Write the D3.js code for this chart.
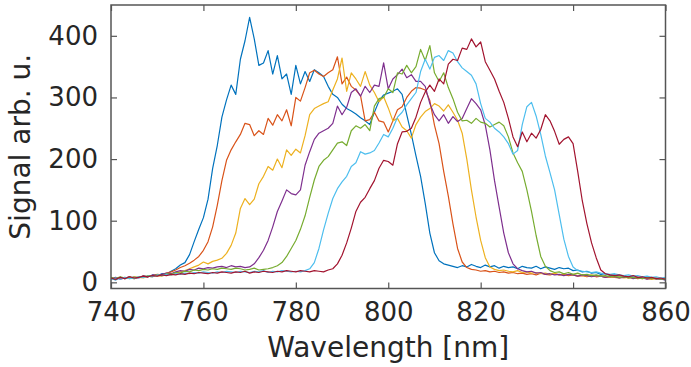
<!DOCTYPE html>
<html>
<head>
<meta charset="utf-8">
<script src="https://cdn.jsdelivr.net/npm/d3@7"></script>
<style>
    body { margin: 0; background: #fff; }
    text { font-family: "DejaVu Sans", sans-serif; fill: #262626; }
</style>
</head>
<body>
<div id="chart"></div>
<script>
// wavelength grid, 1 nm steps 740..860
let wavelength = d3.range(740, 861);

// spectra (arb. u.), one value per nm
let spec1 = [6,4,8,6,7,9,7,10,9,12, 11,14,13,18,22,28,32,45,66,86,
    105,135,185,222,268,296,320,305,362,392, 430,395,352,356,376,338,368,330,338,305,
    352,322,342,326,345,340,334,318,305,300, 289,282,278,273,267,262,256,276,294,304,
    307,310,314,305,272,240,205,172,128,80, 48,35,30,28,26,24,27,25,29,26,
    24,28,25,27,23,26,24,25,22,26, 24,23,26,22,25,23,21,24,22,23,
    19,20,17,18,15,16,13,14,11,12, 10,11,8,9,7,9,6,7,5,6, 4];
let spec2 = [7,5,8,6,9,7,8,10,9,11, 13,12,15,17,20,24,27,31,36,42,
    52,66,90,125,165,198,215,228,240,258, 256,238,246,240,266,255,272,262,280,254,
    300,294,316,340,344,338,334,340,345,366, 322,333,318,312,303,262,264,276,262,260,
    244,262,280,285,300,310,316,315,312,295, 255,225,180,140,95,55,33,24,21,20,
    18,19,17,18,16,17,15,16,14,15, 13,14,12,15,13,12,14,12,13,11,
    12,10,11,9,11,9,10,8,9,8, 7,9,7,8,6,7,6,5,7,5, 6];
let spec3 = [5,7,6,8,6,9,8,7,10,9, 11,10,13,12,15,17,19,22,25,28,
    33,30,34,36,39,47,60,80,120,136, 126,135,160,172,188,182,200,186,215,206,
    216,210,238,272,282,286,290,293,312,330, 364,310,340,330,318,342,320,308,293,301,
    283,262,266,252,246,234,256,268,277,282, 290,286,278,288,276,263,242,200,150,106,
    68,40,25,21,19,20,18,17,19,16, 17,15,16,14,15,13,15,12,14,12,
    13,11,12,10,12,10,11,9,10,8, 9,7,8,7,8,6,7,5,6,5, 6];
let spec4 = [6,8,5,7,9,6,8,10,9,12, 11,13,15,14,17,19,18,21,20,23,
    22,24,23,25,26,24,27,25,26,24, 25,30,40,52,68,90,115,132,150,144,
    142,150,190,212,232,242,246,250,258,286, 272,284,308,314,302,318,308,320,318,356,
    314,330,337,346,332,337,326,326,318,290, 272,262,272,258,269,261,266,282,298,290,
    280,255,215,165,122,80,48,30,22,19, 17,18,15,16,13,14,12,13,11,13,
    12,10,12,11,9,11,10,8,10,9, 7,8,9,6,8,7,5,7,6,5, 4];
let spec5 = [8,6,9,7,8,6,9,8,11,10, 12,11,14,13,16,15,18,17,20,19,
    21,20,22,21,23,22,21,23,22,20, 21,23,20,21,22,24,27,32,42,55,
    68,86,108,138,166,188,198,204,215,226, 228,222,246,254,250,256,246,286,298,300,
    314,308,340,338,352,340,350,378,360,384, 340,326,340,316,298,276,262,263,258,266,
    260,258,252,256,260,254,236,210,194,180, 150,115,76,42,26,19,16,17,14,16,
    13,15,12,13,11,12,10,11,9,10, 8,9,7,8,7,6,8,6,7,5, 6];
let spec6 = [4,7,5,8,6,7,9,8,10,9, 12,11,13,12,14,13,15,14,16,15,
    17,16,15,17,16,18,17,16,18,17, 16,18,17,19,16,18,17,19,18,17,
    18,17,19,22,32,55,85,112,136,152, 163,172,188,194,212,208,210,214,226,240,
    236,250,268,276,288,298,308,342,362,346, 365,368,360,376,372,358,348,342,336,322,
    290,266,260,250,244,236,225,208,214,256, 285,292,270,240,205,178,150,110,70,42,
    25,19,18,17,16,17,15,14,13,14, 12,11,12,10,11,9,10,8,9,7, 8];
let spec7 = [7,5,8,6,9,7,8,10,9,11, 10,12,11,13,12,14,13,15,14,16,
    15,14,16,15,17,16,15,17,16,18, 15,17,16,18,17,16,18,17,19,18,
    17,19,18,17,19,18,17,20,22,30, 44,64,88,115,130,138,152,165,185,198,
    196,190,225,244,245,250,268,292,309,320, 310,330,322,354,362,360,380,378,395,382,
    390,358,344,330,310,292,266,236,220,244, 228,242,234,248,272,262,245,224,232,236,
    225,180,132,95,64,40,20,14,12,11, 12,10,9,11,8,9,7,8,6,7, 5];

let allSpectra = [spec1, spec2, spec3, spec4, spec5, spec6, spec7];
let lineColors = ["#0072BD", "#D95319", "#EDB120", "#7E2F8E", "#77AC30", "#4DBEEE", "#A2142F"];

let xTicks = [740, 760, 780, 800, 820, 840, 860];
let yTicks = [0, 100, 200, 300, 400];

let width = 691, height = 367;
let margin = {top: 5, right: 25.5, bottom: 78.5, left: 111};
let plotW = width - margin.left - margin.right;
let plotH = height - margin.top - margin.bottom;

let svg = d3.select("#chart").append("svg")
    .attr("width", width)
    .attr("height", height);

let x = d3.scaleLinear().domain([740, 860]).range([0, plotW]);
let y = d3.scaleLinear().domain([-10, 450]).range([plotH, 0]);

let g = svg.append("g").attr("transform", "translate(" + margin.left + "," + margin.top + ")");

g.append("clipPath").attr("id", "plotClip")
    .append("rect").attr("width", plotW).attr("height", plotH);

// spectra, first one at the bottom
let line = d3.line()
    .x((d, i) => x(wavelength[i]))
    .y(d => y(d));

g.append("g").attr("clip-path", "url(#plotClip)")
    .selectAll("path")
    .data(allSpectra)
    .enter()
    .append("path")
    .attr("d", line)
    .attr("fill", "none")
    .attr("stroke", (d, i) => lineColors[i])
    .attr("stroke-width", 1.2)
    .attr("stroke-linejoin", "round");

// axes, ticks inside like matlab, box on
let axisColor = "#555";
let tickLen = 6;

let xBottom = g.append("g").attr("transform", "translate(0," + plotH + ")")
    .call(d3.axisBottom(x).tickValues(xTicks).tickSizeInner(-tickLen).tickSizeOuter(0).tickPadding(14));
let xTop = g.append("g")
    .call(d3.axisTop(x).tickValues(xTicks).tickSizeInner(-tickLen).tickSizeOuter(0).tickFormat(""));
let yLeft = g.append("g")
    .call(d3.axisLeft(y).tickValues(yTicks).tickSizeInner(-tickLen).tickSizeOuter(0).tickPadding(13));
let yRight = g.append("g").attr("transform", "translate(" + plotW + ",0)")
    .call(d3.axisRight(y).tickValues(yTicks).tickSizeInner(-tickLen).tickSizeOuter(0).tickFormat(""));

[xBottom, xTop, yLeft, yRight].forEach(a => {
    a.select(".domain").remove();
    a.selectAll("line").attr("stroke", axisColor).attr("stroke-width", 1.2);
    a.selectAll("text").attr("font-size", 26).attr("fill", "#262626")
        .style("font-family", "'DejaVu Sans', sans-serif");
});

g.append("rect")
    .attr("width", plotW).attr("height", plotH)
    .attr("fill", "none")
    .attr("stroke", axisColor)
    .attr("stroke-width", 1.5);

// axis labels
svg.append("text")
    .attr("x", margin.left + plotW / 2)
    .attr("y", 357)
    .attr("text-anchor", "middle")
    .attr("font-size", 28)
    .text("Wavelength [nm]");

svg.append("text")
    .attr("transform", "translate(30," + (margin.top + plotH / 2) + ") rotate(-90)")
    .attr("text-anchor", "middle")
    .attr("font-size", 28)
    .text("Signal arb. u.");
</script>
</body>
</html>
